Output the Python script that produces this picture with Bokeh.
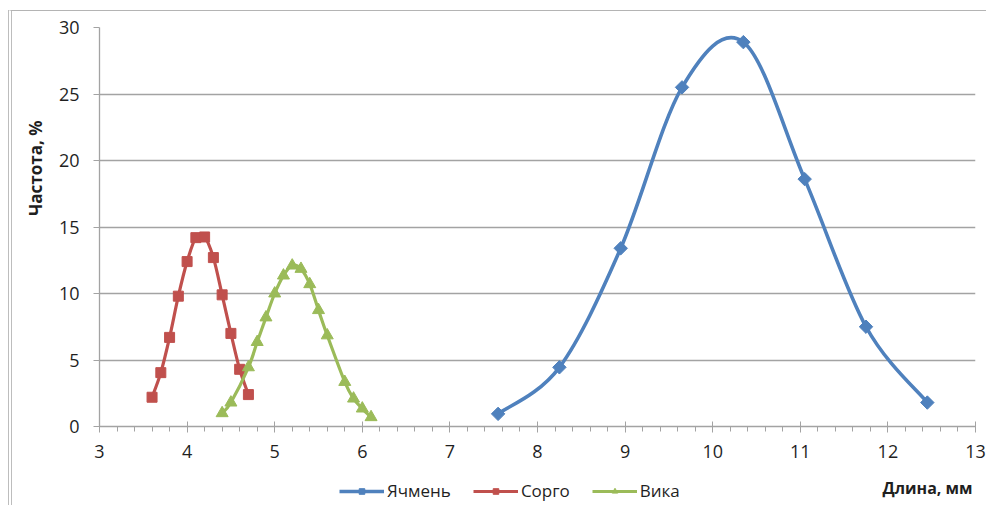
import numpy as np
from bokeh.plotting import figure
from bokeh.layouts import column
from bokeh.models import (FixedTicker, Legend, LegendItem, ColumnDataSource, Range1d, Title, Label)
from bokeh.embed import file_html
from bokeh.resources import INLINE

# ---- data ----
series_names = ["Ячмень", "Сорго", "Вика"]

barley_x = [7.55, 8.25, 8.95, 9.65, 10.35, 11.05, 11.75, 12.45]
barley_y = [0.95, 4.45, 13.4, 25.5, 28.9, 18.6, 7.5, 1.8]

sorghum_x = [3.6, 3.7, 3.8, 3.9, 4.0, 4.1, 4.2, 4.3, 4.4, 4.5, 4.6, 4.7]
sorghum_y = [2.2, 4.05, 6.7, 9.8, 12.4, 14.2, 14.25, 12.7, 9.9, 7.0, 4.3, 2.4]

vetch_x = [4.4, 4.5, 4.7, 4.8, 4.9, 5.0, 5.1, 5.2, 5.3, 5.4, 5.5, 5.6, 5.8, 5.9, 6.0, 6.1]
vetch_y = [1.0, 1.8, 4.45, 6.35, 8.2, 10.0, 11.35, 12.1, 11.85, 10.7, 8.75, 6.85, 3.35, 2.1, 1.35, 0.7]

x_ticks = [3, 4, 5, 6, 7, 8, 9, 10, 11, 12, 13]
y_ticks = [0, 5, 10, 15, 20, 25, 30]

x_title = "Длина, мм"
y_title = "Частота, %"

colors = ["#4F81BD", "#C0504D", "#9BBB59"]
FONT = "Open Sans"
TXT = "#1f1f1f"
GRID = "#a3a3a3"
FRAME_STYLE = {"border-left": "4px double #bdbdbd"}

# ---------------- main chart ----------------
p = figure(width=978, height=457, x_range=Range1d(3, 13), y_range=Range1d(0, 30),
           output_backend="svg", toolbar_location=None,
           min_border_left=86, min_border_right=15, min_border_top=16, min_border_bottom=42)
p.margin = (10, 0, 0, 8)
p.styles = {"border-top": "1px solid #b4b4b4", **FRAME_STYLE}
p.outline_line_color = None
p.background_fill_color = "white"
p.border_fill_color = "white"

p.xgrid.visible = False
p.ygrid.grid_line_color = GRID
p.ygrid.grid_line_width = 1.3
p.ygrid.ticker = FixedTicker(ticks=y_ticks)

xa = p.xaxis[0]
xa.ticker = FixedTicker(ticks=x_ticks, minor_ticks=list(np.round(np.arange(3, 13.001, 0.2), 2)))
xa.axis_line_color = GRID
xa.axis_line_width = 1.3
xa.major_tick_line_color = GRID
xa.minor_tick_line_color = GRID
xa.major_tick_in = 5
xa.major_tick_out = 6
xa.minor_tick_in = 0
xa.minor_tick_out = 5
xa.major_label_text_font = FONT
xa.major_label_text_font_size = "18px"
xa.major_label_text_color = TXT
xa.major_label_standoff = 12

ya = p.yaxis[0]
ya.ticker = FixedTicker(ticks=y_ticks)
ya.axis_line_color = GRID
ya.axis_line_width = 1.3
ya.major_tick_line_color = GRID
ya.major_tick_in = 0
ya.major_tick_out = 6
ya.minor_tick_out = 0
ya.major_label_text_font = FONT
ya.major_label_text_font_size = "18px"
ya.major_label_text_color = TXT
ya.major_label_standoff = 14


def bezier_source(xs, ys):
    n = len(xs)
    d = dict(x0=[], y0=[], x1=[], y1=[], cx0=[], cy0=[], cx1=[], cy1=[])
    for i in range(n - 1):
        a = i - 1 if i > 0 else i
        b = i + 2 if i + 2 < n else i + 1
        d["x0"].append(xs[i]); d["y0"].append(ys[i])
        d["x1"].append(xs[i + 1]); d["y1"].append(ys[i + 1])
        d["cx0"].append(xs[i] + (xs[i + 1] - xs[a]) / 6.0)
        d["cy0"].append(ys[i] + (ys[i + 1] - ys[a]) / 6.0)
        d["cx1"].append(xs[i + 1] - (xs[b] - xs[i]) / 6.0)
        d["cy1"].append(ys[i + 1] - (ys[b] - ys[i]) / 6.0)
    return ColumnDataSource(d)


series = [(barley_x, barley_y, "square", 9.5, np.pi / 4, 3.6),
          (sorghum_x, sorghum_y, "square", 10, 0, 3.2),
          (vetch_x, vetch_y, "triangle", 12, 0, 3.2)]

for (xs, ys, marker, size, ang, lw), col in zip(series, colors):
    p.bezier(x0="x0", y0="y0", x1="x1", y1="y1", cx0="cx0", cy0="cy0", cx1="cx1", cy1="cy1",
             source=bezier_source(xs, ys), line_color=col, line_width=lw)
    p.scatter(xs, ys, marker=marker, size=size, angle=ang, fill_color=col, line_color=col)

# y-axis title (left panel, toward the top like the reference)
yt = Title(text=y_title, align="right", offset=93, text_font=FONT, text_font_size="17px",
           text_font_style="bold", text_color=TXT)
if "standoff" in Title.properties():
    yt.standoff = 18
p.add_layout(yt, "left")

# ---------------- legend strip below the chart ----------------
lg = figure(width=978, height=38, x_range=Range1d(0, 1), y_range=Range1d(0, 1),
            x_axis_type=None, y_axis_type=None, output_backend="svg", toolbar_location=None,
            min_border=0)
lg.margin = (0, 0, 0, 8)
lg.styles = dict(FRAME_STYLE)
lg.grid.visible = False
lg.outline_line_color = None
lg.background_fill_color = "white"
lg.border_fill_color = "white"

items = []
for (xs, ys, marker, size, ang, lw), name, col in zip(series, series_names, colors):
    # proxies of the series: their data lie outside this strip's ranges, only the legend shows them
    ln = lg.line(xs, ys, line_color=col, line_width=lw)
    sc = lg.scatter(xs, ys, marker=marker, size=size - 1, angle=ang, fill_color=col, line_color=col)
    items.append(LegendItem(label=name, renderers=[ln, sc]))

legend = Legend(items=items, orientation="horizontal", location=(240, 3),
                glyph_width=45, glyph_height=14, label_height=14, label_standoff=3, spacing=22,
                padding=0, margin=0, border_line_color=None, background_fill_alpha=0,
                label_text_font=FONT, label_text_font_size="17px", label_text_color=TXT)
lg.add_layout(legend, "center")

lg.add_layout(Label(x=783, y=18, x_units="screen", y_units="screen", text=x_title,
                    text_align="left", text_baseline="middle", text_font=FONT,
                    text_font_size="16px", text_font_style="bold", text_color=TXT))

layout = column(p, lg, spacing=0)
open("out.html", "w").write(file_html(layout, INLINE))
